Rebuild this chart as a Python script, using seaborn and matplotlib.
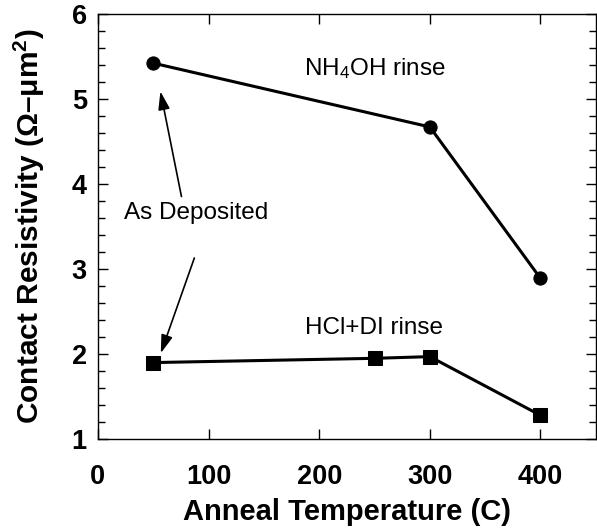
import matplotlib
matplotlib.use("Agg")
import matplotlib.pyplot as plt
import seaborn as sns
import pandas as pd
from matplotlib.ticker import MultipleLocator

# Data
nh4oh_temp = [50, 300, 400]
nh4oh_res = [5.42, 4.67, 2.89]
hcl_temp = [50, 250, 300, 400]
hcl_res = [1.90, 1.95, 1.97, 1.28]
x_ticks = [0, 100, 200, 300, 400]
y_ticks = [1, 2, 3, 4, 5, 6]

sns.set_style("ticks")
plt.rcParams['font.family'] = ['Liberation Sans', 'DejaVu Sans']
plt.rcParams['mathtext.fontset'] = 'custom'
plt.rcParams['mathtext.rm'] = 'Liberation Sans'
plt.rcParams['mathtext.it'] = 'Liberation Sans:italic'
plt.rcParams['mathtext.bf'] = 'Liberation Sans:bold'
for k in ['text.color', 'axes.labelcolor', 'xtick.color', 'ytick.color', 'axes.edgecolor']:
    plt.rcParams[k] = 'black'

df1 = pd.DataFrame({"T": nh4oh_temp, "R": nh4oh_res})
df2 = pd.DataFrame({"T": hcl_temp, "R": hcl_res})

fig = plt.figure(figsize=(5.97, 5.31), dpi=100)
ax = fig.add_axes([0.164, 0.173, 0.834, 0.801])

sns.lineplot(data=df1, x="T", y="R", ax=ax, color="black", linewidth=2.2,
             marker="o", markersize=9.5, markeredgecolor="black", markerfacecolor="black")
sns.lineplot(data=df2, x="T", y="R", ax=ax, color="black", linewidth=2.2,
             marker="s", markersize=9.5, markeredgecolor="black", markerfacecolor="black")

ax.set_xlim(0, 450)
ax.set_ylim(1, 6)
ax.set_xticks(x_ticks)
ax.set_yticks(y_ticks)
ax.yaxis.set_minor_locator(MultipleLocator(0.2))
ax.tick_params(axis='both', which='both', direction='in', top=True, right=True)
ax.tick_params(axis='both', which='major', length=7, width=1, labelsize=19.5)
ax.tick_params(axis='x', which='major', pad=18)
ax.tick_params(axis='y', which='major', pad=8)
ax.tick_params(axis='both', which='minor', length=5, width=1)
for lab in ax.get_xticklabels() + ax.get_yticklabels():
    lab.set_fontweight('bold')
for s in ax.spines.values():
    s.set_linewidth(1)
    s.set_color('black')

ax.set_xlabel("Anneal Temperature (C)", fontsize=21, fontweight='bold', labelpad=6)
ax.set_ylabel(r"Contact Resistivity (Ω–μm$^\mathbf{2}$)", fontsize=21.5, fontweight='bold', labelpad=18)

ax.text(186, 5.36, r"NH$_4$OH rinse", fontsize=17.5, ha='left', va='center')
ax.text(24, 3.66, "As Deposited", fontsize=17.5, ha='left', va='center')
ax.text(187, 2.31, "HCl+DI rinse", fontsize=17.5, ha='left', va='center')

ax.annotate("", xy=(56, 5.12), xytext=(76, 3.82),
            arrowprops=dict(arrowstyle="-|>,head_length=1.1,head_width=0.35", color="black", lw=1.2))
ax.annotate("", xy=(56, 1.98), xytext=(88, 3.16),
            arrowprops=dict(arrowstyle="-|>,head_length=1.1,head_width=0.35", color="black", lw=1.2))

fig.savefig("out.png", dpi=100)
